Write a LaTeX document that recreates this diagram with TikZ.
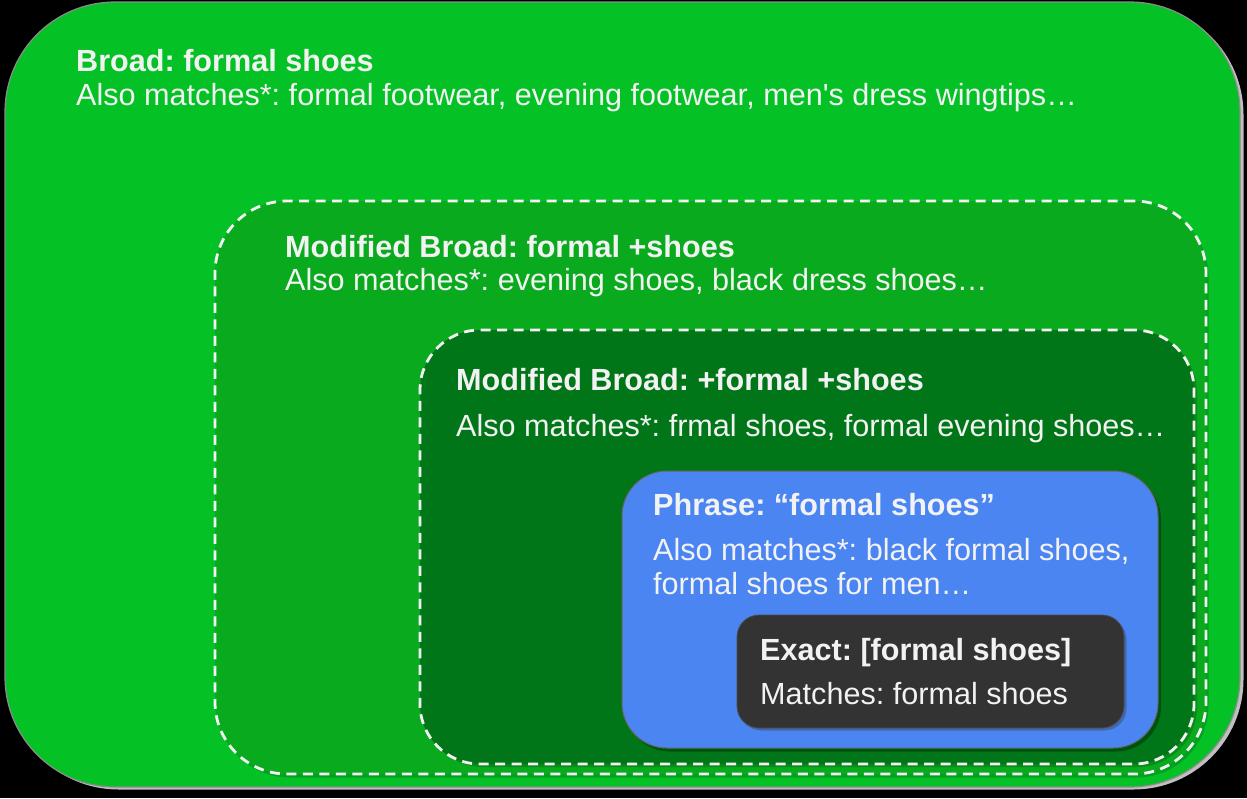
\documentclass[tikz,border=0pt]{standalone}
\usepackage{fontspec}
\setmainfont{Liberation Sans}[Ligatures=TeXOff]
\definecolor{gOuter}{RGB}{4,194,38}
\definecolor{gMid}{RGB}{10,170,30}
\definecolor{gDark}{RGB}{0,118,24}
\definecolor{bBlue}{RGB}{74,133,242}
\definecolor{dGray}{RGB}{51,51,51}
\definecolor{tWhite}{RGB}{242,242,242}
\frenchspacing
\begin{document}
\begin{tikzpicture}[x=1pt,y=-1pt,
  box/.style={rectangle,inner sep=0pt,outer sep=0pt},
  dashbox/.style={box,draw=tWhite,line width=2.8pt,dash pattern=on 10pt off 6.5pt},
  shadowbox/.style={box,fill=black,opacity=0.18},
  hd/.style={anchor=base west,inner sep=0pt,text=tWhite,font=\fontsize{30.6}{33}\selectfont\bfseries},
  tx/.style={anchor=base west,inner sep=0pt,text=tWhite,font=\fontsize{30.6}{33}\selectfont}]
\fill[black] (0,0) rectangle (1247,798);
\useasboundingbox (0,0) rectangle (1247,798);
% outer
\node[box,fill=black!25,rounded corners=110pt,minimum width=1235pt,minimum height=785pt] (outershadow) at (626,397) {};
\node[box,fill=gOuter,draw=black!45,line width=1.2pt,rounded corners=110pt,minimum width=1235pt,minimum height=785pt] (outer) at (622.5,394.5) {};
% box 2
\node[shadowbox,rounded corners=72pt,minimum width=991pt,minimum height=573pt] (b2s) at (713,491) {};
\node[box,fill=gMid,rounded corners=72pt,minimum width=991pt,minimum height=573pt] (b2) at (710.5,487.5) {};
\node[dashbox,rounded corners=72pt,minimum width=991pt,minimum height=573pt] (b2d) at (710.5,487.5) {};
% box 3
\node[shadowbox,rounded corners=60pt,minimum width=774pt,minimum height=434pt] (b3s) at (810,550) {};
\node[box,fill=gDark,rounded corners=60pt,minimum width=774pt,minimum height=434pt] (b3) at (807,547) {};
\node[dashbox,rounded corners=60pt,minimum width=774pt,minimum height=434pt] (b3d) at (807,547) {};
% blue
\node[shadowbox,opacity=0.3,rounded corners=45pt,minimum width=536pt,minimum height=277pt] (bls) at (893,613) {};
\node[box,fill=bBlue,draw=black!60,line width=1pt,rounded corners=45pt,minimum width=536pt,minimum height=277pt] (blue) at (890,609.5) {};
% exact
\node[shadowbox,fill=black!80,opacity=0.35,rounded corners=22pt,minimum width=387pt,minimum height=113pt] (exs) at (933,674) {};
\node[box,fill=dGray,draw=black!70,line width=0.8pt,rounded corners=22pt,minimum width=387pt,minimum height=113pt] (exact) at (930.5,671.5) {};
% texts
\node[hd] (t1a) at (76,71) {Broad: formal shoes};
\node[tx] (t1b) at (76,105) {Also matches*: formal footwear, evening footwear, men's dress wingtips…};
\node[hd] (t2a) at (285,257) {Modified Broad: formal +shoes};
\node[tx] (t2b) at (285,290) {Also matches*: evening shoes, black dress shoes…};
\node[hd] (t3a) at (456,390) {Modified Broad: +formal +shoes};
\node[tx] (t3b) at (456,436) {Also matches*: frmal shoes, formal evening shoes…};
\node[hd] (t4a) at (653,515) {Phrase: “formal shoes”};
\node[tx] (t4b) at (653,560) {Also matches*: black formal shoes,};
\node[tx] (t4c) at (653,594) {formal shoes for men…};
\node[hd] (t5a) at (760,660) {Exact: [formal shoes]};
\node[tx] (t5b) at (760,704) {Matches: formal shoes};
\end{tikzpicture}
\end{document}
